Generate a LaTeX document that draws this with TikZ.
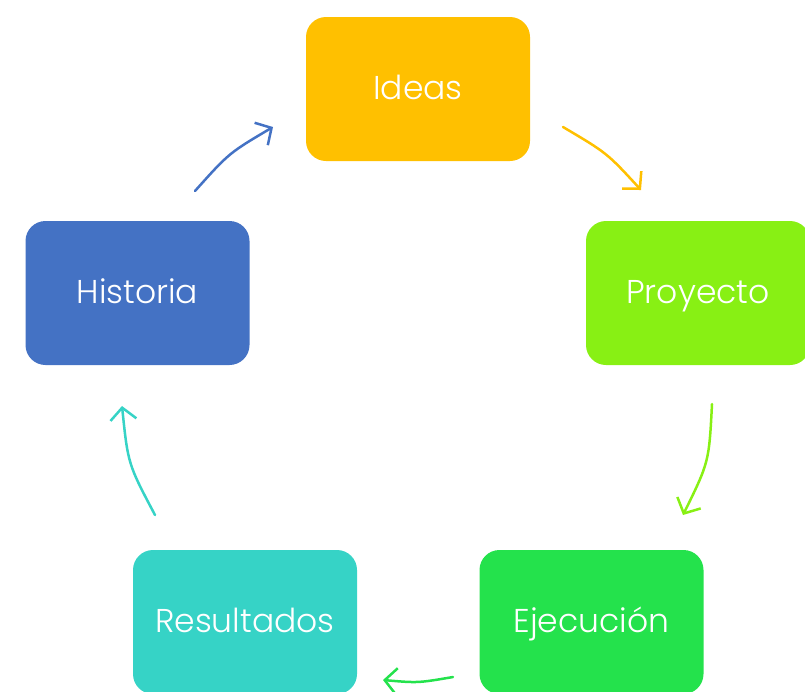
\documentclass[tikz,border=0pt]{standalone}
\usepackage{fontspec}
\setmainfont{Poppins Light}
\usetikzlibrary{arrows.meta}
\definecolor{cIdeas}{HTML}{FFC000}
\definecolor{cProy}{HTML}{88F014}
\definecolor{cHist}{HTML}{4472C4}
\definecolor{cRes}{HTML}{36D3C6}
\definecolor{cEjec}{HTML}{24E24C}
\tikzset{
  stagebox/.style={rectangle, rounded corners=20pt, minimum width=224pt, minimum height=144pt,
    inner sep=0pt, text=white, text height=26pt, text depth=6pt,
    font=\fontsize{33}{38}\selectfont},
  cyclearrow/.style={line width=2.5pt, line cap=round,
    -{Straight Barb[length=12pt,width=26pt,line width=2.5pt]}}
}
\begin{document}
\begin{tikzpicture}[x=1pt,y=-1pt]
\useasboundingbox (0,0) rectangle (805,691);
\clip (0,0) rectangle (805,691);
\node[stagebox, fill=cIdeas] (ideas) at (418,89) {Ideas};
\node[stagebox, fill=cProy] (proy) at (698,293) {Proyecto};
\node[stagebox, fill=cHist] (hist) at (137.5,293) {Historia};
\node[stagebox, fill=cRes] (res) at (245,622) {Resultados};
\node[stagebox, fill=cEjec] (ejec) at (591.5,622) {Ejecución};
\coordinate (a1s) at (195,191); \coordinate (a1c) at (229,153); \coordinate (a1e) at (273,127);
\coordinate (a2s) at (563,127); \coordinate (a2c) at (607,153); \coordinate (a2e) at (641,190);
\coordinate (a3s) at (712,404); \coordinate (a3c) at (709,462); \coordinate (a3e) at (683,515);
\coordinate (a4s) at (453,677); \coordinate (a4c) at (418,683); \coordinate (a4e) at (383,680);
\coordinate (a5s) at (155,515); \coordinate (a5c) at (128,464); \coordinate (a5e) at (122,406);
\draw[cyclearrow, cHist] (a1s) .. controls (a1c) .. (a1e);
\draw[cyclearrow, cIdeas] (a2s) .. controls (a2c) .. (a2e);
\draw[cyclearrow, cProy] (a3s) .. controls (a3c) .. (a3e);
\draw[cyclearrow, cEjec] (a4s) .. controls (a4c) .. (a4e);
\draw[cyclearrow, cRes] (a5s) .. controls (a5c) .. (a5e);
\end{tikzpicture}
\end{document}
